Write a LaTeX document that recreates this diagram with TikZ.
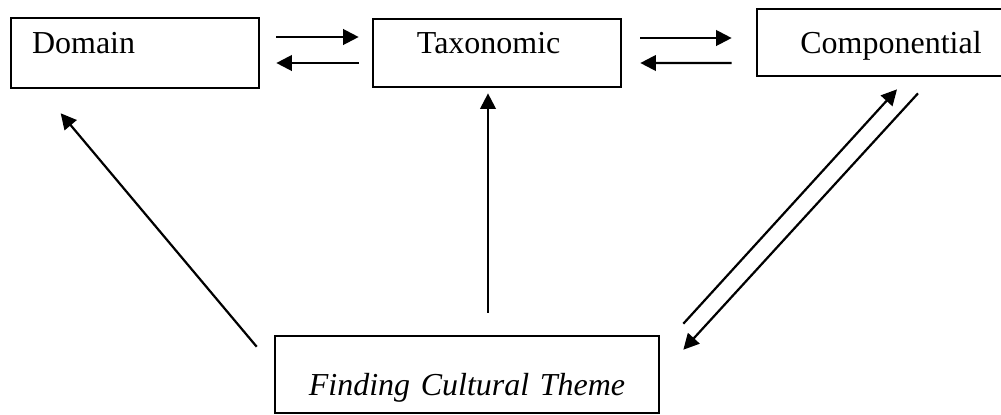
\documentclass[tikz,border=0pt]{standalone}
\usepackage{fontspec}
\setmainfont{Liberation Serif}
\usepackage{tikz}
\usetikzlibrary{arrows.meta, calc}

\begin{document}
\begin{tikzpicture}[
  x=0.3846pt, y=-0.3846pt,
  font=\fontsize{12.3pt}{14pt}\selectfont,
  box/.style={draw, line width=1pt, inner ysep=0pt,
              minimum height=26.9pt, text height=4pt, text depth=4pt},
  lbox/.style={box, align=left, minimum width=95.4pt},
  cbox/.style={box, align=center},
  ar/.style={-{Triangle[length=6pt, width=6pt]}, line width=0.85pt}
]
\useasboundingbox (0,0) rectangle (1001,414);
\clip (0,0) rectangle (1001,414);
\node[lbox, inner xsep=8.1pt, text width=79.2pt] at (135,53) (dom) {Domain};
\node[lbox, inner xsep=16.9pt, text width=61.6pt, minimum height=26.2pt] at (497,53) (tax) {Taxonomic};
\node[cbox, inner xsep=6.55pt, text width=90pt, minimum height=25.8pt,
      text height=8.1pt, text depth=0pt] at (891,42.5) (comp) {Componential};
\node[cbox, inner xsep=8.85pt, text width=130pt, minimum height=29.6pt,
      text height=15.8pt, text depth=0pt, font=\fontsize{12.3pt}{14pt}\selectfont\itshape]
     at (467,374.5) (theme) {Finding Cultural Theme};
% top row, both ways
\draw[ar] ($(dom.east)+(16,-16)$) -- ($(tax.west)+(-13,-16)$);
\draw[ar] ($(tax.west)+(-13,10)$) -- ($(dom.east)+(16,10)$);
\draw[ar] ($(tax.east)+(18,-15)$) -- ($(comp.west)+(-24,-4.5)$);
\draw[ar] ($(comp.west)+(-24,20.5)$) -- ($(tax.east)+(18,10)$);
% from the theme
\draw[ar] ($(theme.north west)+(-17,12)$) -- ($(dom.south west)+(51,24)$);
\draw[ar] ($(theme.north)+(21,-22)$) -- ($(tax.south)+(-9,5)$);
\draw[ar] ($(theme.north east)+(23,-11)$) -- ($(comp.south)+(6,12)$);
\draw[ar] ($(comp.south)+(27,16)$) -- ($(theme.north east)+(23,15)$);
\end{tikzpicture}
\end{document}
